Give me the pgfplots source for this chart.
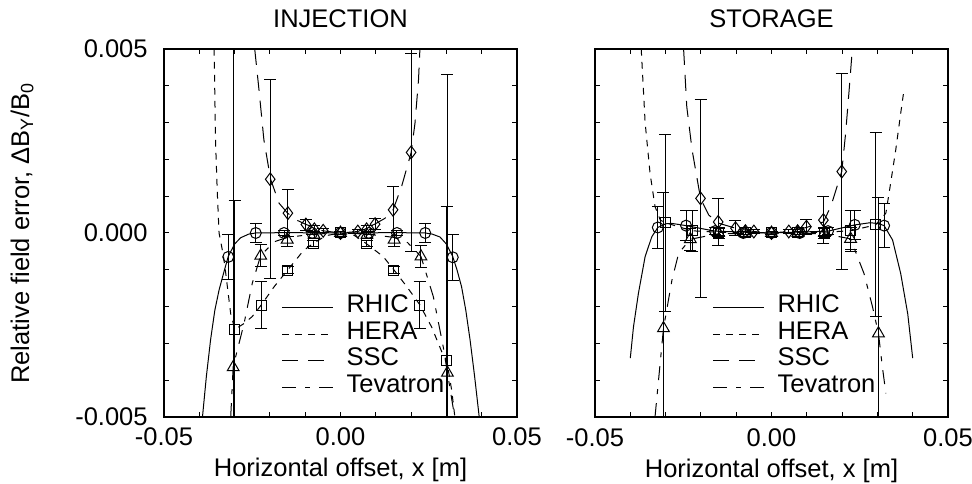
\documentclass[border=0pt]{standalone}
\usepackage{fontspec}
\setmainfont{Liberation Sans}
\usepackage{pgfplots}
\pgfplotsset{compat=1.18}

\pgfplotsset{
  panel/.style={
    width=176.5bp, height=184bp, scale only axis,
    xmin=-0.05, xmax=0.05, ymin=-0.005, ymax=0.005,
    scaled x ticks=false, scaled y ticks=false,
    xtick={-0.05,0,0.05}, xticklabels={-0.05,0.00,0.05},
    minor xtick={-0.04,-0.03,-0.02,-0.01,0.01,0.02,0.03,0.04},
    ytick={-0.005,0,0.005},
    minor ytick={-0.004,-0.003,-0.002,-0.001,0.001,0.002,0.003,0.004},
    major tick length=2.5bp, minor tick length=2.5bp,
    tick style={line width=0.5bp, black},
    axis line style={line width=0.6bp},
    xticklabel style={anchor=base, yshift=-14.5bp},
    xlabel={Horizontal offset, x [m]},
    xlabel style={at={(axis description cs:0.5,0)}, anchor=base, yshift=-30bp},
    title style={at={(axis description cs:0.5,1)}, anchor=base, yshift=5bp},
    legend image code/.code={\draw[#1] (0bp,0bp) -- (25.3bp,0bp);},
    legend cell align=left,
    legend style={draw=none, fill=none, anchor=north west,
      at={(axis cs:-0.0185,-0.00155)}, row sep=0pt,
      nodes={inner sep=0pt, text height=9bp, text depth=4.3bp},
      /tikz/every odd column/.append style={column sep=6.7bp}},
    clip=true,
  },
  rhic/.style={black, line width=0.5bp, solid},
  hera/.style={black, line width=0.5bp, dash pattern=on 3.3bp off 3.2bp},
  ssc/.style={black, line width=0.5bp, dash pattern=on 8bp off 5bp},
  tev/.style={black, line width=0.5bp, dash pattern=on 7bp off 4.5bp on 2.5bp off 4.5bp},
  pts/.style={only marks, black, forget plot, line width=0.5bp,
    mark options={solid, line width=0.5bp},
    error bars/y dir=both, error bars/y explicit,
    error bars/error bar style={line width=0.5bp, black, solid},
    error bars/error mark options={rotate=90, mark size=3bp, line width=0.5bp, black}},
}

\begin{document}
\begin{tikzpicture}[font=\fontsize{12.8}{15}\selectfont]
\path[use as bounding box] (-82bp,-33.5bp) rectangle (404bp,208.5bp);

% ---------------- INJECTION ----------------
\begin{axis}[panel, at={(0bp,0bp)}, anchor=south west,
  title={INJECTION},
  yticklabels={-0.005,0.000,0.005},
  yticklabel style={anchor=east, inner sep=0pt, xshift=-8bp},
  ylabel={Relative field error, ΔB\textsubscript{Y}/B\textsubscript{0}},
  ylabel style={at={(axis description cs:-0.402,0.5)}, anchor=center},
]
\addplot[rhic] coordinates {
 (-0.0391,-0.005) (-0.0380,-0.0039) (-0.0368,-0.0029) (-0.0356,-0.0021)
 (-0.0344,-0.00155) (-0.0330,-0.00105) (-0.0318,-0.00064) (-0.0300,-0.00030)
 (-0.0283,-0.00013) (-0.0260,-0.00003) (-0.0240,0) (-0.0160,0.00001) (0,0)
 (0.0160,0.00001) (0.0240,0) (0.0260,-0.00003) (0.0282,-0.00011) (0.0300,-0.00030)
 (0.0318,-0.00064) (0.0330,-0.00100) (0.0343,-0.00146) (0.0355,-0.0021)
 (0.0367,-0.0029) (0.0380,-0.0039) (0.0393,-0.005)};
\addlegendentry{RHIC}
\addplot[hera] coordinates {
 (-0.0358,0.005) (-0.0354,0.0025) (-0.0349,0.0011) (-0.0344,0) (-0.0332,-0.0006)
 (-0.0325,-0.0011) (-0.0311,-0.0022) (-0.0299,-0.00262) (-0.0275,-0.00247)
 (-0.0250,-0.00227) (-0.0224,-0.00195) (-0.0188,-0.00146) (-0.0150,-0.00101)
 (-0.0105,-0.00048) (-0.0077,-0.00028) (-0.0040,-0.00007) (0,0) (0.0040,-0.00007)
 (0.0072,-0.00028) (0.0121,-0.00064) (0.0152,-0.00101) (0.0188,-0.00146)
 (0.0224,-0.00194) (0.0258,-0.00255) (0.0287,-0.00323) (0.0301,-0.00347)
 (0.0315,-0.00427) (0.0324,-0.0050)};
\addlegendentry{HERA}
\addplot[ssc] coordinates {
 (-0.0243,0.005) (-0.0231,0.0039) (-0.0217,0.00253) (-0.0198,0.00146)
 (-0.0174,0.00081) (-0.0150,0.00054) (-0.0124,0.00035) (-0.0097,0.00023)
 (-0.0050,0.00006) (0,0) (0.0049,0.00004) (0.0097,0.00024) (0.0126,0.0004)
 (0.0149,0.00063) (0.0173,0.00126) (0.0200,0.00218) (0.0211,0.00298)
 (0.0221,0.00416) (0.0225,0.005)};
\addlegendentry{SSC}
\addplot[tev] coordinates {
 (-0.0311,-0.005) (-0.0304,-0.00363) (-0.0273,-0.00245) (-0.0250,-0.00137)
 (-0.0226,-0.00061) (-0.0188,-0.00024) (-0.0151,-0.00012) (-0.0075,-0.00003)
 (0,0) (0.0075,-0.00003) (0.0152,-0.00012) (0.0190,-0.00026) (0.0228,-0.00064)
 (0.0263,-0.00173) (0.0291,-0.00309) (0.0303,-0.0038) (0.0320,-0.0048)
 (0.0322,-0.005)};
\addlegendentry{Tevatron}

\addplot[pts, mark=o, mark size=2.75bp] coordinates {
 (-0.0318,-0.00065) +- (0,0.00062) (-0.0240,0) +- (0,0.00027)
 (-0.0160,0) +- (0,0.00008) (-0.0080,0) +- (0,0.00005) (0,0) +- (0,0.00003)
 (0.0080,0) +- (0,0.00005) (0.0160,0) +- (0,0.00008) (0.0240,0) +- (0,0.00027)
 (0.0318,-0.00066) +- (0,0.00062)};
\addplot[pts, mark=square, mark size=2.5bp] coordinates {
 (-0.0300,-0.00262) +- (0,0.0035) (-0.0224,-0.00196) +- (0,0.00064)
 (-0.0150,-0.00101) +- (0,0.0001) (-0.0077,-0.00028) +- (0,0.00008)
 (0,0) +- (0,0.00003) (0.0074,-0.00028) +- (0,0.00008)
 (0.0151,-0.00101) +- (0,0.0001) (0.0224,-0.00196) +- (0,0.00064)
 (0.0301,-0.00347) +- (0,0.0042)};
\addplot[pts, mark=triangle, mark size=3.4bp] coordinates {
 (-0.0304,-0.00365) +- (0,0.0095) (-0.0226,-0.00062) +- (0,0.0003)
 (-0.0151,-0.00018) +- (0,0.0002) (-0.0075,-0.00005) +- (0,0.0001)
 (0,0) +- (0,0.00003) (0.0075,-0.00005) +- (0,0.0001)
 (0.0152,-0.00018) +- (0,0.0002) (0.0228,-0.00064) +- (0,0.0003)
 (0.0303,-0.0038) +- (0,0.0081)};
\addplot[pts, mark=diamond, mark size=3.2bp] coordinates {
 (-0.0199,0.00146) +- (0,0.0027) (-0.0149,0.00054) +- (0,0.00063)
 (-0.0098,0.00023) +- (0,0.00015) (-0.0074,0.0001) +- (0,0.0001)
 (-0.0049,0.00006) +- (0,0.00005) (0,0) +- (0,0.00003)
 (0.0049,0.00004) +- (0,0.00005) (0.0074,0.0001) +- (0,0.0001)
 (0.0098,0.00024) +- (0,0.00015) (0.0149,0.00063) +- (0,0.00063)
 (0.0200,0.00219) +- (0,0.0027)};
\end{axis}

% ---------------- STORAGE ----------------
\begin{axis}[panel, at={(215.5bp,0bp)}, anchor=south west,
  title={STORAGE},
  yticklabels={},
]
\addplot[rhic] coordinates {
 (-0.0400,-0.0034) (-0.0391,-0.00255) (-0.0377,-0.00164) (-0.0358,-0.00064)
 (-0.0339,-0.0001) (-0.0322,0.00015) (-0.0300,0.00025) (-0.0282,0.00026)
 (-0.0242,0.0002) (-0.0160,0.00005) (0,0) (0.0160,0.00005) (0.0236,0.00022)
 (0.0280,0.00028) (0.0305,0.00025) (0.0319,0.0002) (0.0343,-0.00019)
 (0.0366,-0.0011) (0.0386,-0.0022) (0.0400,-0.0034)};
\addlegendentry{RHIC}
\addplot[hera] coordinates {
 (-0.0369,0.005) (-0.0358,0.0030) (-0.0344,0.00162) (-0.0330,0.00072)
 (-0.0315,0.00035) (-0.0301,0.00028) (-0.0225,0.00006) (-0.0150,0.00002)
 (0,0) (0.0150,0.00002) (0.0224,0.00006) (0.0295,0.00022) (0.0324,0.00054)
 (0.0336,0.00126) (0.0352,0.00226) (0.0366,0.00325) (0.0374,0.0038)};
\addlegendentry{HERA}
\addplot[ssc] coordinates {
 (-0.0249,0.005) (-0.0240,0.00343) (-0.0225,0.00226) (-0.0201,0.00094)
 (-0.0178,0.00049) (-0.0151,0.00027) (-0.0102,0.00013) (-0.0050,0.00004)
 (0,0) (0.0049,0.00004) (0.0099,0.00015) (0.0147,0.0003) (0.0168,0.00072)
 (0.0199,0.00167) (0.0210,0.00271) (0.0220,0.00389) (0.0229,0.005)};
\addlegendentry{SSC}
\addplot[tev] coordinates {
 (-0.0330,-0.005) (-0.0306,-0.00259) (-0.0282,-0.00128) (-0.0263,-0.00055)
 (-0.0230,-0.00017) (-0.0150,-0.00002) (0,0) (0.0150,-0.00002)
 (0.0224,-0.00016) (0.0262,-0.0011) (0.0286,-0.0020) (0.0303,-0.00273)
 (0.0314,-0.00363) (0.0324,-0.00436)};
\addlegendentry{Tevatron}

\addplot[pts, mark=o, mark size=2.75bp] coordinates {
 (-0.0322,0.00015) +- (0,0.00058) (-0.0242,0.0002) +- (0,0.0004)
 (-0.0160,0.00005) +- (0,0.0001) (-0.0080,0) +- (0,0.00005) (0,0) +- (0,0.00003)
 (0.0080,0) +- (0,0.00005) (0.0160,0.00005) +- (0,0.0001)
 (0.0236,0.00022) +- (0,0.0004) (0.0319,0.0002) +- (0,0.0006)};
\addplot[pts, mark=square, mark size=2.5bp] coordinates {
 (-0.0301,0.00028) +- (0,0.0024) (-0.0225,0.00006) +- (0,0.00055)
 (-0.0150,0.00002) +- (0,0.0001) (-0.0075,0) +- (0,0.00005) (0,0) +- (0,0.00003)
 (0.0075,0) +- (0,0.00005) (0.0150,0.00002) +- (0,0.0001)
 (0.0224,0.00006) +- (0,0.00055) (0.0295,0.00022) +- (0,0.0025)};
\addplot[pts, mark=triangle, mark size=3.4bp] coordinates {
 (-0.0306,-0.00259) +- (0,0.0037) (-0.0230,-0.00017) +- (0,0.0003)
 (-0.0150,0) +- (0,0.00015) (-0.0075,0) +- (0,0.00005) (0,0) +- (0,0.00003)
 (0.0075,0) +- (0,0.00005) (0.0150,0) +- (0,0.00015)
 (0.0224,-0.00016) +- (0,0.0003) (0.0303,-0.00273) +- (0,0.0037)};
\addplot[pts, mark=diamond, mark size=3.2bp] coordinates {
 (-0.0201,0.00094) +- (0,0.00268) (-0.0151,0.0003) +- (0,0.00063)
 (-0.0102,0.00013) +- (0,0.0002) (-0.0074,0.00005) +- (0,0.0001)
 (-0.0050,0.00004) +- (0,0.00005) (0,0) +- (0,0.00003)
 (0.0049,0.00004) +- (0,0.00005) (0.0074,0.00005) +- (0,0.0001)
 (0.0099,0.00017) +- (0,0.0002) (0.0147,0.00035) +- (0,0.00063)
 (0.0199,0.00167) +- (0,0.00267)};
\end{axis}
\end{tikzpicture}
\end{document}
